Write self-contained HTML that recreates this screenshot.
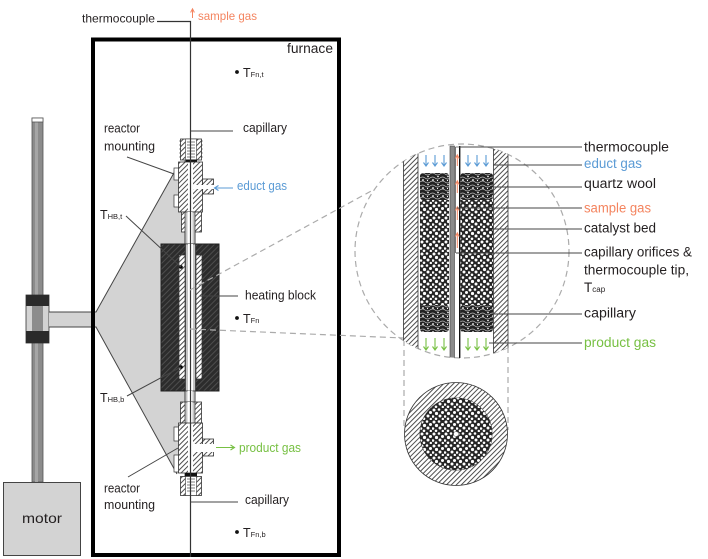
<!DOCTYPE html>
<html><head><meta charset="utf-8"><style>html,body{margin:0;padding:0;background:#fff;}svg{display:block;}</style></head>
<body>
<svg width="708" height="559" viewBox="0 0 708 559" xmlns="http://www.w3.org/2000/svg" font-family="'Liberation Sans', sans-serif" fill="#231f20">
<defs>
<pattern id="h" width="3.5" height="3.5" patternUnits="userSpaceOnUse" patternTransform="rotate(45)">
<rect width="3.5" height="3.5" fill="#fff"/><line x1="0.5" y1="0" x2="0.5" y2="3.5" stroke="#3a3a3a" stroke-width="0.9"/>
</pattern>
<pattern id="hd" width="4" height="4" patternUnits="userSpaceOnUse" patternTransform="rotate(45)">
<rect width="4" height="4" fill="#2c2c2c"/><line x1="0.5" y1="0" x2="0.5" y2="4" stroke="#4d4d4d" stroke-width="1"/>
</pattern>
<pattern id="cat" width="12" height="12" patternUnits="userSpaceOnUse">
<rect width="12" height="12" fill="#262626"/>
<circle cx="2" cy="2" r="1.5" fill="#fff"/><circle cx="7" cy="1.5" r="1.3" fill="#fff"/>
<circle cx="10.5" cy="4.5" r="1.5" fill="#fff"/><circle cx="4.5" cy="5.5" r="1.6" fill="#fff"/>
<circle cx="1" cy="8.5" r="1.3" fill="#fff"/><circle cx="8" cy="8" r="1.5" fill="#fff"/>
<circle cx="4" cy="10.8" r="1.3" fill="#fff"/><circle cx="10.8" cy="11" r="1.2" fill="#fff"/>
</pattern>
<pattern id="wool" width="10" height="8" patternUnits="userSpaceOnUse">
<rect width="10" height="8" fill="#222"/>
<path d="M0,2 Q2.5,0 5,2 T10,2 M0,6 Q2.5,4 5,6 T10,6" stroke="#bdbdbd" stroke-width="0.7" fill="none"/>
<circle cx="3" cy="4" r="0.9" fill="#fff"/><circle cx="8" cy="0.5" r="0.8" fill="#fff"/><circle cx="7.5" cy="4.5" r="0.6" fill="#fff"/>
</pattern>
<clipPath id="cc"><circle cx="462" cy="251" r="107"/></clipPath>
<clipPath id="cs"><circle cx="456" cy="434" r="36"/></clipPath>
</defs>

<!-- rod, clamp, motor -->
<rect x="32" y="118" width="11" height="364" fill="#8c8c8c" stroke="#555" stroke-width="0.8"/>
<rect x="35" y="118" width="3" height="364" fill="#a6a6a6"/>
<rect x="32" y="118" width="11" height="4" fill="#fff" stroke="#555" stroke-width="0.8"/>
<rect x="26" y="295" width="23" height="48" fill="#d3d3d3" stroke="#333" stroke-width="0.8"/>
<rect x="32" y="306" width="11" height="25" fill="#8c8c8c"/>
<rect x="26" y="295" width="23" height="11" fill="#2a2a2a"/>
<rect x="26" y="331" width="23" height="12" fill="#2a2a2a"/>
<rect x="3.5" y="482.5" width="77" height="73" fill="#d3d3d3" stroke="#444" stroke-width="1"/>
<text x="22" y="523" font-size="14" textLength="40" lengthAdjust="spacingAndGlyphs">motor</text>

<!-- cone / arm -->
<path d="M49,312 H96 L175,171 L179,171 L179,212 L182,212 L182,232 L185,232 L185,472 L178,472 L177,474 L96,327 H49 Z" fill="#d3d3d3"/>
<path d="M49,312 H96 L175,171 M49,327 H96 L177,474" stroke="#444" stroke-width="1" fill="none"/>

<!-- furnace -->
<rect x="93" y="39.5" width="246" height="515.5" fill="none" stroke="#000" stroke-width="4"/>
<text x="287" y="53" font-size="13.5" textLength="46" lengthAdjust="spacingAndGlyphs">furnace</text>

<!-- reactor tube -->
<rect x="185" y="161" width="10" height="316" fill="#c4c4c4" stroke="#333" stroke-width="0.8"/>
<rect x="187.5" y="161" width="5" height="316" fill="#fff"/>

<!-- top fitting -->
<rect x="180.5" y="139" width="21" height="21" fill="url(#h)" stroke="#333" stroke-width="0.8"/>
<rect x="185.5" y="139" width="11" height="21" fill="#fff" stroke="#333" stroke-width="0.6"/>
<path d="M187,142 H195 M187,145 H195 M187,148 H195 M187,151 H195 M187,154 H195 M187,157 H195" stroke="#555" stroke-width="0.7"/>
<path d="M180.5,141 h-1 M180.5,145 h-1 M180.5,149 h-1 M180.5,153 h-1 M180.5,157 h-1 M201.5,141 h1 M201.5,145 h1 M201.5,149 h1 M201.5,153 h1 M201.5,157 h1" stroke="#333" stroke-width="1"/>
<rect x="186" y="159.5" width="11" height="2.5" fill="#111"/>
<rect x="178.5" y="162" width="24" height="50" fill="url(#h)" stroke="#333" stroke-width="0.8"/>
<rect x="202.5" y="179" width="11" height="15" fill="url(#h)" stroke="#333" stroke-width="0.8"/>
<rect x="188" y="162.5" width="5" height="49" fill="#fff"/>
<rect x="188" y="185" width="26" height="4" fill="#fff"/>
<rect x="174" y="168" width="4.5" height="12" fill="#fff" stroke="#333" stroke-width="0.7"/>
<rect x="174" y="195" width="4.5" height="12" fill="#fff" stroke="#333" stroke-width="0.7"/>
<rect x="181.5" y="212" width="20" height="20" fill="url(#h)" stroke="#333" stroke-width="0.8"/>
<rect x="185" y="212" width="10" height="32" fill="#c4c4c4" stroke="#333" stroke-width="0.7"/>
<rect x="187.5" y="212" width="5" height="32" fill="#fff"/>

<!-- heating block -->
<rect x="161" y="244" width="58" height="147" fill="url(#hd)" stroke="#222" stroke-width="1"/>
<rect x="179" y="255" width="6" height="124" fill="url(#h)" stroke="#333" stroke-width="0.7"/>
<rect x="196" y="255" width="6" height="124" fill="url(#h)" stroke="#333" stroke-width="0.7"/>
<rect x="185.5" y="244" width="10" height="147" fill="#c4c4c4" stroke="#333" stroke-width="0.7"/>
<rect x="188" y="244" width="5" height="147" fill="#fff"/>
<circle cx="181" cy="267" r="1.8" fill="#000"/>
<circle cx="181" cy="367" r="1.8" fill="#000"/>

<!-- lower fitting -->
<rect x="185" y="391" width="10" height="12" fill="#c4c4c4" stroke="#333" stroke-width="0.7"/>
<rect x="187.5" y="391" width="5" height="12" fill="#fff"/>
<rect x="180.5" y="402" width="21" height="21" fill="url(#h)" stroke="#333" stroke-width="0.8"/>
<rect x="185" y="402" width="10" height="21" fill="#c4c4c4" stroke="#333" stroke-width="0.7"/>
<rect x="187.5" y="402" width="5" height="21" fill="#fff"/>
<rect x="178.5" y="423" width="24" height="50" fill="url(#h)" stroke="#333" stroke-width="0.8"/>
<rect x="202.5" y="439" width="11" height="17" fill="url(#h)" stroke="#333" stroke-width="0.8"/>
<rect x="188" y="423.5" width="5" height="49" fill="#fff"/>
<rect x="188" y="444" width="26" height="8" fill="#fff"/>
<rect x="174" y="427" width="4.5" height="14" fill="#fff" stroke="#333" stroke-width="0.7"/>
<rect x="174" y="455" width="4.5" height="17" fill="#fff" stroke="#333" stroke-width="0.7"/>
<rect x="185" y="473" width="12" height="3.5" fill="#111"/>
<rect x="180.5" y="476.5" width="21" height="19" fill="url(#h)" stroke="#333" stroke-width="0.8"/>
<rect x="185.5" y="476.5" width="11" height="19" fill="#fff" stroke="#333" stroke-width="0.6"/>
<path d="M187,479 H195 M187,482 H195 M187,485 H195 M187,488 H195 M187,491 H195" stroke="#555" stroke-width="0.7"/>

<!-- thermocouple line -->
<path d="M157,21.5 H190.5 V557" stroke="#333" stroke-width="1.2" fill="none"/>
<path d="M192.5,18 V9.5 M190.6,12.5 L192.5,8.8 L194.4,12.5" stroke="#f4845f" stroke-width="1" fill="none"/>

<!-- left leaders -->
<g stroke="#444" stroke-width="1" fill="none">
<path d="M190.5,131 H233"/>
<path d="M127,157 L174,174"/>
<path d="M126,216 L181,267"/>
<path d="M200,296 H238"/>
<path d="M127,396 L181,367"/>
<path d="M128,477 L178,448"/>
<path d="M190.5,502 H238"/>
</g>
<path d="M233,188 H215 M218.5,185.5 L214.5,188 L218.5,190.5" stroke="#5b9bd5" stroke-width="1.1" fill="none"/>
<path d="M216,447.5 H234 M230.5,445 L234.5,447.5 L230.5,450" stroke="#77c043" stroke-width="1.1" fill="none"/>

<!-- left labels -->
<g font-size="12.5">
<text x="82" y="22.5" font-size="12" textLength="73" lengthAdjust="spacingAndGlyphs">thermocouple</text>
<text x="198" y="20" font-size="12" fill="#f4845f" textLength="59" lengthAdjust="spacingAndGlyphs">sample gas</text>
<text x="243" y="132" textLength="44" lengthAdjust="spacingAndGlyphs">capillary</text>
<text x="104" y="132.5" textLength="36" lengthAdjust="spacingAndGlyphs">reactor</text>
<text x="104" y="150.5" textLength="51" lengthAdjust="spacingAndGlyphs">mounting</text>
<text x="237" y="190" fill="#5b9bd5" textLength="50" lengthAdjust="spacingAndGlyphs">educt gas</text>
<text x="245" y="299.5" textLength="71" lengthAdjust="spacingAndGlyphs">heating block</text>
<text x="239" y="452" fill="#77c043" textLength="62" lengthAdjust="spacingAndGlyphs">product gas</text>
<text x="104" y="492.5" textLength="36" lengthAdjust="spacingAndGlyphs">reactor</text>
<text x="104" y="509" textLength="51" lengthAdjust="spacingAndGlyphs">mounting</text>
<text x="245" y="504" textLength="44" lengthAdjust="spacingAndGlyphs">capillary</text>
<text x="100" y="219">T<tspan font-size="7.5">HB,t</tspan></text>
<text x="100" y="402">T<tspan font-size="7.5">HB,b</tspan></text>
<text x="243" y="77">T<tspan font-size="7.5">Fn,t</tspan></text>
<text x="243" y="323">T<tspan font-size="7.5">Fn</tspan></text>
<text x="243" y="537">T<tspan font-size="7.5">Fn,b</tspan></text>
</g>
<circle cx="237" cy="72" r="1.9" fill="#111"/>
<circle cx="237" cy="318" r="1.9" fill="#111"/>
<circle cx="237" cy="532" r="1.9" fill="#111"/>

<!-- dashed projections -->
<g stroke="#ababab" stroke-width="1.2" stroke-dasharray="6 4" fill="none">
<path d="M190,290 L373,190"/>
<path d="M190,329 L403,338"/>
<circle cx="462" cy="251" r="107"/>
<path d="M404,340 V430"/>
<path d="M508,347 V430"/>
</g>

<!-- detail -->
<g clip-path="url(#cc)">
<rect x="403.5" y="140" width="14.5" height="225" fill="url(#h)" stroke="#333" stroke-width="0.8"/>
<rect x="493.5" y="140" width="14.5" height="225" fill="url(#h)" stroke="#333" stroke-width="0.8"/>
<rect x="420" y="200" width="29" height="107" fill="url(#cat)"/>
<rect x="460.5" y="200" width="32.5" height="107" fill="url(#cat)"/>
<rect x="420" y="173" width="29" height="27" rx="3" fill="url(#wool)"/>
<rect x="460.5" y="173" width="32.5" height="27" rx="3" fill="url(#wool)"/>
<rect x="420" y="305" width="29" height="27" rx="3" fill="url(#wool)"/>
<rect x="460.5" y="305" width="32.5" height="27" rx="3" fill="url(#wool)"/>
<rect x="450" y="146" width="4.5" height="215" fill="#8a8a8a" stroke="#444" stroke-width="0.6"/>
<path d="M459.7,146 V361" stroke="#111" stroke-width="1.4"/>
<path d="M455.5,147 V253 M455.5,147 H460" stroke="#555" stroke-width="0.8" fill="none"/>
</g>
<g stroke="#f4845f" stroke-width="1" fill="none">
<path d="M457.3,166 V155 M455.4,158.5 L457.3,154.8 L459.2,158.5"/>
<path d="M457.3,193 V181 M455.4,184.5 L457.3,180.8 L459.2,184.5"/>
<path d="M457.3,220 V207 M455.4,210.5 L457.3,206.8 L459.2,210.5"/>
<path d="M457.3,248 V233 M455.4,236.5 L457.3,232.8 L459.2,236.5"/>
</g>
<g stroke="#5b9bd5" stroke-width="1.1" fill="none">
<path d="M426,155 V166 M423.5,162.5 L426,166 L428.5,162.5"/>
<path d="M435,155 V166 M432.5,162.5 L435,166 L437.5,162.5"/>
<path d="M444,155 V166 M441.5,162.5 L444,166 L446.5,162.5"/>
<path d="M468,155 V166 M465.5,162.5 L468,166 L470.5,162.5"/>
<path d="M477,155 V166 M474.5,162.5 L477,166 L479.5,162.5"/>
<path d="M486,155 V166 M483.5,162.5 L486,166 L488.5,162.5"/>
</g>
<g stroke="#77c043" stroke-width="1.1" fill="none">
<path d="M426,338 V350 M423.5,346.5 L426,350 L428.5,346.5"/>
<path d="M435,338 V350 M432.5,346.5 L435,350 L437.5,346.5"/>
<path d="M444,338 V350 M441.5,346.5 L444,350 L446.5,346.5"/>
<path d="M468,338 V350 M465.5,346.5 L468,350 L470.5,346.5"/>
<path d="M477,338 V350 M474.5,346.5 L477,350 L479.5,346.5"/>
<path d="M486,338 V350 M483.5,346.5 L486,350 L488.5,346.5"/>
</g>
<g stroke="#444" stroke-width="1.1" fill="none">
<path d="M460,147 H582"/>
<path d="M493,165 H582"/>
<path d="M493,187 H582"/>
<path d="M457,208 H582"/>
<path d="M493,229 H582"/>
<path d="M456,253 H582"/>
<path d="M493,314 H582"/>
<path d="M489,343 H582"/>
</g>
<g font-size="13.5">
<text x="584" y="151.5" textLength="85" lengthAdjust="spacingAndGlyphs">thermocouple</text>
<text x="584" y="168" fill="#5b9bd5" textLength="58" lengthAdjust="spacingAndGlyphs">educt gas</text>
<text x="584" y="188" textLength="72" lengthAdjust="spacingAndGlyphs">quartz wool</text>
<text x="584" y="212.5" fill="#f4845f" textLength="67" lengthAdjust="spacingAndGlyphs">sample gas</text>
<text x="584" y="232.5" textLength="72" lengthAdjust="spacingAndGlyphs">catalyst bed</text>
<text x="584" y="256.5" textLength="108" lengthAdjust="spacingAndGlyphs">capillary orifices &amp;</text>
<text x="584" y="274.5" textLength="105" lengthAdjust="spacingAndGlyphs">thermocouple tip,</text>
<text x="584" y="292">T<tspan font-size="8">cap</tspan></text>
<text x="584" y="317.5" textLength="52" lengthAdjust="spacingAndGlyphs">capillary</text>
<text x="584" y="347" fill="#77c043" textLength="72" lengthAdjust="spacingAndGlyphs">product gas</text>
</g>

<!-- cross-section -->
<circle cx="456" cy="434" r="51.5" fill="url(#h)" stroke="#333" stroke-width="0.8"/>
<circle cx="456" cy="434" r="36" fill="#fff" stroke="#333" stroke-width="0.8"/>
<rect x="418" y="396" width="76" height="76" fill="url(#cat)" clip-path="url(#cs)"/>
<circle cx="456" cy="434" r="2.5" fill="#fff" stroke="#555" stroke-width="0.5"/>
</svg>
</body></html>
